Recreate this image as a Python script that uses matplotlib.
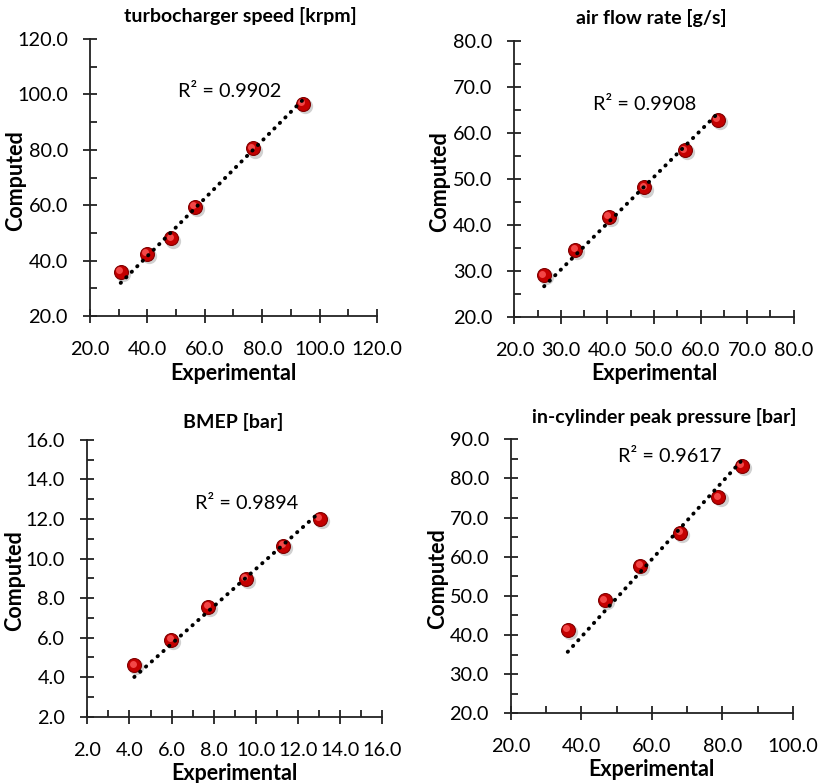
import numpy as np
import matplotlib
matplotlib.use("Agg")
import matplotlib.pyplot as plt
import matplotlib.transforms as mtransforms
from matplotlib.ticker import MultipleLocator, FormatStrFormatter

plt.rcParams['font.family'] = ['Lato', 'DejaVu Sans']

# data
turbo_exp = [30.7, 39.9, 48.3, 56.6, 76.7, 94.1]
turbo_comp = [36.0, 42.4, 48.0, 59.5, 80.5, 96.5]

air_exp = [26.4, 33.1, 40.3, 47.9, 56.6, 63.7]
air_comp = [29.0, 34.6, 41.7, 48.1, 56.2, 62.8]

bmep_exp = [4.23, 5.99, 7.74, 9.52, 11.3, 13.04]
bmep_comp = [4.6, 5.88, 7.55, 8.98, 10.65, 12.02]

pmax_exp = [36.1, 46.6, 56.7, 68.1, 78.9, 85.5]
pmax_comp = [41.3, 48.9, 57.7, 66.1, 75.2, 83.2]

titles = ['turbocharger speed [krpm]', 'air flow rate [g/s]',
          'BMEP [bar]', 'in-cylinder peak pressure [bar]']
r2_labels = ['0.9902', '0.9908', '0.9894', '0.9617']

panels = [
    # x, y, rect, xlim, xstep, ylim, ystep, r2 pos, title pos, ylabel x
    (turbo_exp, turbo_comp, [0.1095, 0.5964, 0.349, 0.3538], (20, 120), 20, (20, 120), 20,
     (0.488, 0.809), (0.523, 1.083), -0.261),
    (air_exp, air_comp, [0.6257, 0.5955, 0.3399, 0.3525], (20, 80), 10, (20, 80), 10,
     (0.465, 0.77), (0.489, 1.082), -0.268),
    (bmep_exp, bmep_comp, [0.1062, 0.0847, 0.3589, 0.3534], (2, 16), 2, (2, 16), 2,
     (0.54, 0.771), (0.494, 1.066), -0.245),
    (pmax_exp, pmax_comp, [0.6217, 0.089, 0.3427, 0.35], (20, 100), 20, (20, 90), 10,
     (0.562, 0.936), (0.543, 1.082), -0.26),
]

fig = plt.figure(figsize=(8.22, 7.83), dpi=100)

for i, (xe, yc, rect, xlim, xstep, ylim, ystep, r2pos, tpos, ylx) in enumerate(panels):
    ax = fig.add_axes(rect)
    xe = np.array(xe)
    yc = np.array(yc)

    # sphere-like markers: shadow, body, highlight
    shadow = mtransforms.offset_copy(ax.transData, fig=fig, x=1.5, y=-1.5, units='points')
    ax.plot(xe, yc, 'o', ms=11, mfc='#999999', mec='none', alpha=0.45,
            transform=shadow, zorder=2)
    ax.plot(xe, yc, 'o', ms=10, mfc='#c40000', mec='#800000', mew=0.8, zorder=3)
    hl = mtransforms.offset_copy(ax.transData, fig=fig, x=-1.2, y=1.2, units='points')
    ax.plot(xe, yc, 'o', ms=5, mfc='#ff5a5a', mec='none', alpha=0.8,
            transform=hl, zorder=3)

    # linear trendline with intercept set to 0 (as in the source chart)
    k = np.sum(xe * yc) / np.sum(xe * xe)
    xt = np.array([xe.min(), xe.max()])
    ax.plot(xt, k * xt, color='black', lw=2.8, dashes=(0.1, 1.9),
            dash_capstyle='round', zorder=4)

    ax.set_xlim(*xlim)
    ax.set_ylim(*ylim)
    ax.xaxis.set_major_locator(MultipleLocator(xstep))
    ax.xaxis.set_minor_locator(MultipleLocator(xstep / 2))
    ax.yaxis.set_major_locator(MultipleLocator(ystep))
    ax.yaxis.set_minor_locator(MultipleLocator(ystep / 2))
    ax.xaxis.set_major_formatter(FormatStrFormatter('%.1f'))
    ax.yaxis.set_major_formatter(FormatStrFormatter('%.1f'))

    for s in ['top', 'right']:
        ax.spines[s].set_visible(False)
    for s in ['left', 'bottom']:
        ax.spines[s].set_color('#222222')
        ax.spines[s].set_linewidth(1.3)

    ax.tick_params(which='major', direction='inout', length=10, width=1.3,
                   color='#222222', labelsize=14.3)
    ax.tick_params(axis='y', which='major', pad=11)
    ax.tick_params(axis='x', which='major', pad=13)
    ax.tick_params(which='minor', direction='in', length=5, width=1.3,
                   color='#222222')
    ax.tick_params(top=False, right=False, which='both')

    ax.text(tpos[0], tpos[1], titles[i], transform=ax.transAxes,
            ha='center', va='center', fontsize=14, fontweight='bold')
    ax.text(r2pos[0], r2pos[1], 'R² = ' + r2_labels[i], transform=ax.transAxes,
            ha='center', va='center', fontsize=14.3)

    ax.set_xlabel('Experimental', fontsize=15.5, fontweight='bold')
    ax.set_ylabel('Computed', fontsize=15.5, fontweight='bold')
    ax.xaxis.set_label_coords(0.5, -0.206)
    ax.yaxis.set_label_coords(ylx, 0.49)
    ax.xaxis.label.set_va('center')
    ax.yaxis.label.set_va('center')

plt.savefig('out.png', dpi=100)
